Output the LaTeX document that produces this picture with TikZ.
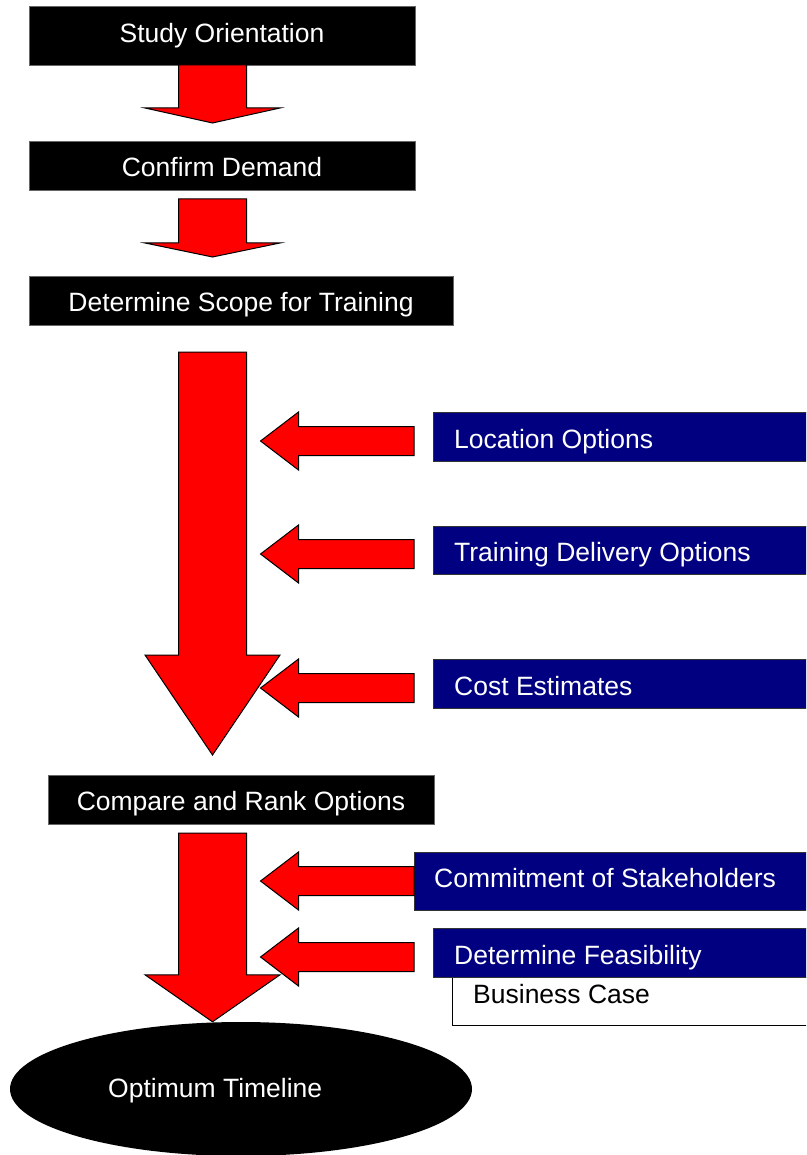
\documentclass[tikz,border=0pt]{standalone}
\usepackage{fontspec}
\setmainfont{Liberation Sans}
\usetikzlibrary{shapes.geometric,calc}

\definecolor{navybox}{RGB}{0,0,128}

\tikzset{
  stagebox/.style={fill=black, draw=black!60, line width=0.8pt, inner sep=0pt, outer sep=0pt},
  inputbox/.style={fill=navybox, draw=black!80, line width=0.8pt, inner sep=0pt, outer sep=0pt, anchor=west},
  notebox/.style={fill=white, draw=black, line width=1pt, inner sep=0pt, outer sep=0pt, anchor=west},
  boxtext/.style={text=white, inner sep=0pt, font=\fontsize{26.5pt}{30pt}\selectfont},
  blockarrow/.style={fill=red, draw=black, line width=1pt, line join=miter},
}

% block arrow pointing down: start, tip, head length
\newcommand{\blockdown}[3]{%
  \draw[blockarrow] let \p1=#1, \p2=#2 in
    (\x2-34pt,\y1) -- (\x2+34pt,\y1) -- (\x2+34pt,\y2+#3pt) -- (\x2+67.5pt,\y2+#3pt)
    -- (\x2,\y2) -- (\x2-67.5pt,\y2+#3pt) -- (\x2-34pt,\y2+#3pt) -- cycle;}

% block arrow pointing left, from its tail to the inlet line
\newcommand{\blockleft}[1]{%
  \draw[blockarrow] let \p1=#1, \p2=(inlet) in
    (\x1,\y1+14.5pt) -- (\x2+38pt,\y1+14.5pt) -- (\x2+38pt,\y1+29pt) -- (\x2,\y1)
    -- (\x2+38pt,\y1-29pt) -- (\x2+38pt,\y1-14.5pt) -- (\x1,\y1-14.5pt) -- cycle;}

\begin{document}
\begin{tikzpicture}[x=1pt, y=-1pt]

    \useasboundingbox (0,0) rectangle (806,1155);
    \clip (0,0) rectangle (806,1155);

    \coordinate (spine) at (212.5,0);
    \coordinate (inlet) at (260.5,0);

%Main stages
    \node[stagebox, minimum width=386pt, minimum height=59pt] at (222,35.5)  (so) {};
    \node[stagebox, minimum width=386pt, minimum height=49pt] at (222,165.5) (cd) {};
    \node[stagebox, minimum width=424pt, minimum height=49pt] at (241,300.5) (sc) {};
    \node[stagebox, minimum width=386pt, minimum height=49pt] at (241,799.5) (cr) {};
    \node[ellipse, fill=black, inner sep=0pt, minimum width=462pt, minimum height=134pt] at (241,1089) (ot) {};

%Inputs
    \node[inputbox, minimum width=379pt, minimum height=49pt] at (433,436.5) (lo) {};
    \node[inputbox, minimum width=379pt, minimum height=48pt] at (433,550)   (tr) {};
    \node[inputbox, minimum width=379pt, minimum height=49pt] at (433,683.5) (ce) {};
    \node[inputbox, minimum width=398pt, minimum height=58pt] at (414,881)   (cm) {};
    \node[notebox,  minimum width=360pt, minimum height=48pt] at (452,1001)  (bc) {};
    \node[inputbox, minimum width=379pt, minimum height=49pt] at (433,952.5) (fe) {};

%Texts
    \node[boxtext, anchor=base] at ($(so.center)+(0,7.5)$)  (sot) {Study Orientation};
    \node[boxtext, anchor=base] at ($(cd.center)+(0,11.5)$) (cdt) {Confirm Demand};
    \node[boxtext, anchor=base] at ($(sc.center)+(0,11.5)$) (sct) {Determine Scope for Training};
    \node[boxtext, anchor=base] at ($(cr.center)+(0,11)$)   (crt) {Compare and Rank Options};
    \node[boxtext, anchor=base west] at ($(ot.center)+(-133,8)$) (ott) {Optimum Timeline};

    \node[boxtext, anchor=base west] at ($(lo.west)+(21,11.5)$) (lot) {Location Options};
    \node[boxtext, anchor=base west] at ($(tr.west)+(21,11)$)   (trt) {Training Delivery Options};
    \node[boxtext, anchor=base west] at ($(ce.west)+(21,11.5)$) (cet) {Cost Estimates};
    \node[boxtext, anchor=base west] at ($(cm.west)+(20,6)$)    (cmt) {Commitment of Stakeholders};
    \node[boxtext, anchor=base west] at ($(fe.west)+(21,11.5)$) (fet) {Determine Feasibility};
    \node[boxtext, text=black, anchor=base west] at ($(bc.west)+(21,2)$) (bct) {Business Case};

%Flow arrows
    \blockdown{(spine |- so.south)}{($(spine |- cd.north)+(0,-18)$)}{15}
    \blockdown{($(spine |- cd.south)+(0,9)$)}{($(spine |- sc.north)+(0,-19)$)}{14}
    \blockdown{($(spine |- sc.south)+(0,27)$)}{($(spine |- cr.north)+(0,-20)$)}{100}
    \blockdown{($(spine |- cr.south)+(0,9)$)}{(spine |- ot.north)}{47}

%Input arrows
    \blockleft{($(lo.west)+(-19,4.5)$)}
    \blockleft{($(tr.west)+(-19,4)$)}
    \blockleft{($(ce.west)+(-19,4.5)$)}
    \blockleft{(cm.west)}
    \blockleft{($(fe.west)+(-19,4.5)$)}

  \end{tikzpicture}
\end{document}
